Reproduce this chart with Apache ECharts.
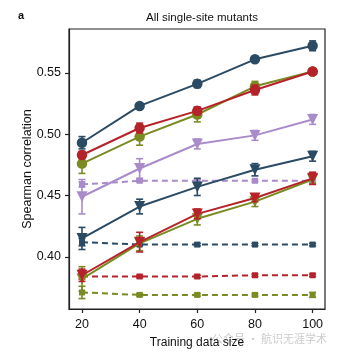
<!DOCTYPE html>
<html>
<head>
<meta charset="utf-8">
<script src="https://cdn.jsdelivr.net/npm/echarts@6/dist/echarts.min.js"></script>
<style>
  html, body { margin: 0; padding: 0; background: #fff; }
  #chart { width: 339px; height: 354px; }
</style>
</head>
<body>
<div id="chart"></div>
<script>
// Training set sizes
const sizes = [20, 40, 60, 80, 100];
const xTicks = [20, 40, 60, 80, 100];
const yTicks = [0.40, 0.45, 0.50, 0.55];

// Solid lines, circle markers
const navyCircle    = [0.493, 0.523, 0.541, 0.561, 0.572];
const navyCircleErr = [0.005, 0.002, 0.003, 0.002, 0.004];
const redCircle     = [0.483, 0.505, 0.519, 0.536, 0.551];
const redCircleErr  = [0.003, 0.004, 0.003, 0.004, 0.002];
const oliveCircle   = [0.476, 0.498, 0.516, 0.539, 0.551];
const oliveCircleErr= [0.008, 0.007, 0.006, 0.004, 0.002];

// Solid lines, down-triangle markers
const lilacTri      = [0.449, 0.472, 0.492, 0.499, 0.512];
const lilacTriErr   = [0.014, 0.008, 0.004, 0.004, 0.004];
const navyTri       = [0.415, 0.441, 0.457, 0.471, 0.482];
const navyTriErr    = [0.009, 0.006, 0.007, 0.005, 0.004];
const redTri        = [0.385, 0.412, 0.435, 0.448, 0.464];
const redTriErr     = [0.005, 0.008, 0.004, 0.003, 0.005];
const oliveTri      = [0.382, 0.411, 0.431, 0.445, 0.463];
const oliveTriErr   = [0.010, 0.006, 0.005, 0.004, 0.003];

// Dashed lines, square markers
const lilacFlat     = [0.459, 0.462, 0.462, 0.462, 0.462];
const lilacFlatErr  = [0.002, 0.001, 0.001, 0.001, 0.001];
const navyFlat      = [0.412, 0.410, 0.410, 0.410, 0.410];
const navyFlatErr   = [0.003, 0.001, 0.001, 0.001, 0.001];
const redFlat       = [0.384, 0.384, 0.384, 0.385, 0.385];
const redFlatErr    = [0.002, 0.001, 0.001, 0.001, 0.001];
const oliveFlat     = [0.371, 0.369, 0.369, 0.369, 0.369];
const oliveFlatErr  = [0.005, 0.001, 0.001, 0.001, 0.002];

const NAVY = '#2b4a63';
const RED = '#b5232a';
const OLIVE = '#7b8a23';
const LILAC = '#a98bca';

function pairs(vals) { return sizes.map((s, i) => [s, vals[i]]); }
function bars(vals, errs) { return sizes.map((s, i) => [s, vals[i] - errs[i], vals[i] + errs[i]]); }

function errorSeries(vals, errs, color, z) {
  return {
    type: 'custom',
    z: z,
    silent: true,
    clip: false,
    data: bars(vals, errs),
    renderItem: function (params, api) {
      const x = api.value(0);
      const lo = api.coord([x, api.value(1)]);
      const hi = api.coord([x, api.value(2)]);
      const cap = 3.5;
      const st = { stroke: color, lineWidth: 1.6 };
      return {
        type: 'group',
        children: [
          { type: 'line', shape: { x1: lo[0], y1: lo[1], x2: hi[0], y2: hi[1] }, style: st },
          { type: 'line', shape: { x1: lo[0] - cap, y1: lo[1], x2: lo[0] + cap, y2: lo[1] }, style: st },
          { type: 'line', shape: { x1: hi[0] - cap, y1: hi[1], x2: hi[0] + cap, y2: hi[1] }, style: st }
        ]
      };
    }
  };
}

function lineSeries(vals, color, kind, z) {
  const dashed = kind === 'square';
  let symbol = 'circle', size = 10.5;
  if (kind === 'triangle') { symbol = 'triangle'; size = 11; }
  if (dashed) { symbol = 'rect'; size = 6; }
  return {
    type: 'line',
    z: z,
    data: pairs(vals),
    symbol: symbol,
    symbolSize: size,
    symbolRotate: kind === 'triangle' ? 180 : 0,
    showAllSymbol: true,
    silent: true,
    animation: false,
    lineStyle: { color: color, width: 2, type: dashed ? [6, 4] : 'solid' },
    itemStyle: { color: color, borderWidth: 0, opacity: 1 }
  };
}

const groups = [
  [oliveFlat, oliveFlatErr, OLIVE, 'square'],
  [redFlat, redFlatErr, RED, 'square'],
  [navyFlat, navyFlatErr, NAVY, 'square'],
  [lilacFlat, lilacFlatErr, LILAC, 'square'],
  [oliveTri, oliveTriErr, OLIVE, 'triangle'],
  [redTri, redTriErr, RED, 'triangle'],
  [navyTri, navyTriErr, NAVY, 'triangle'],
  [lilacTri, lilacTriErr, LILAC, 'triangle'],
  [oliveCircle, oliveCircleErr, OLIVE, 'circle'],
  [redCircle, redCircleErr, RED, 'circle'],
  [navyCircle, navyCircleErr, NAVY, 'circle']
];

const series = [];
groups.forEach((g, i) => {
  series.push(errorSeries(g[0], g[1], g[2], 2 + i * 2));
  series.push(lineSeries(g[0], g[2], g[3], 3 + i * 2));
});

const chart = echarts.init(document.getElementById('chart'), null, { renderer: 'canvas' });
const font = 'Liberation Sans, Arial, sans-serif';
chart.setOption({
  animation: false,
  backgroundColor: '#fff',
  textStyle: { fontFamily: font },
  title: {
    text: 'All single-site mutants',
    left: 197, top: 7, textAlign: 'center',
    textStyle: { fontSize: 11.5, fontWeight: 'normal', color: '#111', fontFamily: font }
  },
  graphic: [
    { type: 'text', left: 18, top: 10, style: { text: 'a', font: 'bold 11px ' + font, fill: '#111' } },
    { type: 'text', left: 212, top: 333, style: { text: '公众号 · 航识无涯学术', font: '11px "Noto Sans CJK SC"', fill: 'rgba(150,150,150,0.5)' } }
  ],
  grid: { left: 69, right: 14, top: 29, bottom: 42, show: true, borderColor: '#222', borderWidth: 1.2, containLabel: false },
  xAxis: {
    type: 'value', min: 15.5, max: 104.3,
    name: 'Training data size', nameLocation: 'middle', nameGap: 28, nameMoveOverlap: false,
    nameTextStyle: { fontSize: 12, color: '#111', fontFamily: font },
    axisLine: { show: true, lineStyle: { color: '#222', width: 1.2 } },
    axisTick: { show: true, length: 4, customValues: xTicks, lineStyle: { color: '#222', width: 1.2 } },
    axisLabel: { customValues: xTicks, fontSize: 12.5, color: '#111', margin: 9, fontFamily: font },
    splitLine: { show: false }
  },
  yAxis: {
    type: 'value', min: 0.3575, max: 0.5857,
    name: 'Spearman correlation', nameLocation: 'middle', nameGap: 35, nameMoveOverlap: false,
    nameTextStyle: { fontSize: 12.5, color: '#111', fontFamily: font },
    axisLine: { show: true, lineStyle: { color: '#222', width: 1.2 } },
    axisTick: { show: true, length: 4, customValues: yTicks, lineStyle: { color: '#222', width: 1.2 } },
    axisLabel: { customValues: yTicks, fontSize: 12.5, color: '#111', margin: 8, fontFamily: font,
      formatter: v => v.toFixed(2) },
    splitLine: { show: false }
  },
  series: series
});
</script>
</body>
</html>
